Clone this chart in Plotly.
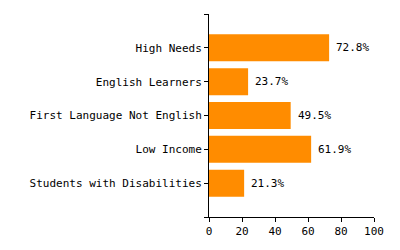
import plotly.graph_objects as go

categories = ["High Needs", "English Learners", "First Language Not English",
              "Low Income", "Students with Disabilities"]
values = [72.8, 23.7, 49.5, 61.9, 21.3]
labels = ["72.8%", "23.7%", "49.5%", "61.9%", "21.3%"]
x_ticks = [0, 20, 40, 60, 80, 100]

n = len(categories)
ypos = [n - 1 - i for i in range(n)]
font = dict(family="DejaVu Sans Mono", size=11, color="#000")

fig = go.Figure()
fig.add_trace(go.Bar(
    x=values, y=ypos, orientation="h", width=0.8,
    marker=dict(color="#FF8C00", line=dict(width=0)),
    hoverinfo="skip",
))
for v, y, t in zip(values, ypos, labels):
    fig.add_annotation(x=v, y=y, text=t, showarrow=False, xanchor="left",
                       xshift=5, font=font)

fig.update_layout(
    width=400, height=250,
    margin=dict(l=209, r=26, t=14, b=29),
    paper_bgcolor="white", plot_bgcolor="white",
    showlegend=False, font=font,
    bargap=0.2,
)
fig.update_xaxes(
    range=[0, 100], tickvals=x_ticks, ticks="outside", ticklen=4,
    tickcolor="#000", showline=True, linecolor="#000", linewidth=1,
    showgrid=False, zeroline=False, tickfont=font,
)
fig.update_yaxes(
    range=[-1, n], tickvals=[-1] + ypos + [n],
    ticktext=[""] + categories + [""],
    ticks="outside", ticklen=4, tickcolor="#000",
    showline=True, linecolor="#000", linewidth=1,
    showgrid=False, zeroline=False, tickfont=font,
)
fig.write_html("out.html")
